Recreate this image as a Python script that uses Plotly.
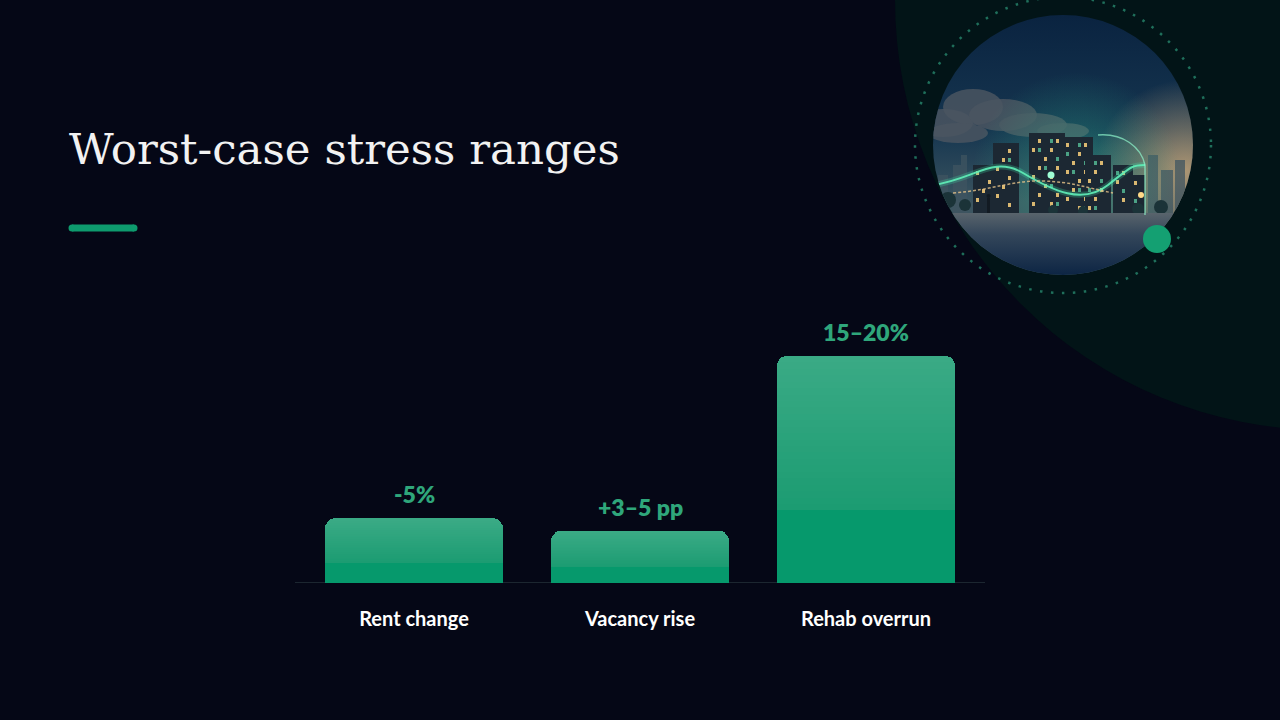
import base64
import plotly.graph_objects as go

# ---------------- data ----------------
categories = ["Rent change", "Vacancy rise", "Rehab overrun"]
values = [5, 4, 17.5]
value_labels = ["-5%", "+3–5 pp", "15–20%"]
title_text = "Worst-case stress ranges"

W, H = 1280, 720
BG = "#050716"


def px(x):
    return x / W


def py(y):
    return 1 - y / H


def hex2rgb(h):
    h = h.lstrip("#")
    return tuple(int(h[i:i + 2], 16) for i in (0, 2, 4))


def lerp(c1, c2, t):
    a, b = hex2rgb(c1), hex2rgb(c2)
    return "#%02x%02x%02x" % tuple(round(a[i] + (b[i] - a[i]) * t) for i in range(3))


# bar gradient built from stacked slices (bottom flat part + gradient upper part)
bottom_frac = 0.32
n_grad = 24
segments = [(bottom_frac, "#06996c")] + [
    ((1 - bottom_frac) / n_grad, lerp("#1c9c72", "#3aaa85", i / (n_grad - 1)))
    for i in range(n_grad)
]

fig = go.Figure()
for frac, color in segments:
    fig.add_trace(go.Bar(
        x=categories,
        y=[v * frac for v in values],
        marker=dict(color=color, line=dict(width=0)),
        hoverinfo="skip",
        showlegend=False,
    ))

# ---------------- decorative illustration (SVG) ----------------
s = []
s.append('<svg xmlns="http://www.w3.org/2000/svg" width="260" height="260" viewBox="0 0 260 260">')
s.append('<defs>'
         '<clipPath id="c"><circle cx="130" cy="130" r="130"/></clipPath>'
         '<linearGradient id="sky" x1="0" y1="0" x2="0" y2="1">'
         '<stop offset="0" stop-color="#0a2340"/><stop offset="0.45" stop-color="#163650"/>'
         '<stop offset="0.72" stop-color="#3c5560"/><stop offset="1" stop-color="#3c5560"/></linearGradient>'
         '<radialGradient id="warm" cx="0.97" cy="0.6" r="0.35">'
         '<stop offset="0" stop-color="#d8b07c" stop-opacity="0.75"/>'
         '<stop offset="1" stop-color="#d8b07c" stop-opacity="0"/></radialGradient>'
         '<radialGradient id="glow" cx="0.55" cy="0.62" r="0.4">'
         '<stop offset="0" stop-color="#2fd39a" stop-opacity="0.35"/>'
         '<stop offset="1" stop-color="#2fd39a" stop-opacity="0"/></radialGradient>'
         '<linearGradient id="ground" x1="0" y1="0" x2="0" y2="1">'
         '<stop offset="0" stop-color="#59646c"/><stop offset="0.35" stop-color="#33465a"/>'
         '<stop offset="1" stop-color="#0d2544"/></linearGradient>'
         '</defs>')
s.append('<g clip-path="url(#c)">')
s.append('<rect x="0" y="0" width="260" height="260" fill="url(#sky)"/>')
s.append('<rect x="0" y="0" width="260" height="260" fill="url(#warm)"/>')
# clouds
for cx, cy, rx, ry in [(10, 108, 30, 14), (40, 92, 30, 18), (70, 100, 34, 16), (100, 110, 34, 12),
                       (130, 116, 26, 8), (25, 118, 30, 10)]:
    s.append(f'<ellipse cx="{cx}" cy="{cy}" rx="{rx}" ry="{ry}" fill="#4a5560" opacity="0.85"/>')
# distant skyline
for x, w, top in [(5, 10, 160), (20, 8, 150), (28, 6, 140), (215, 10, 140), (228, 12, 155), (242, 10, 145)]:
    s.append(f'<rect x="{x}" y="{top}" width="{w}" height="{200 - top}" fill="#3f5460" opacity="0.75"/>')
s.append('<rect x="0" y="0" width="260" height="260" fill="url(#glow)"/>')
# buildings
buildings = [(40, 22, 150), (60, 26, 128), (96, 36, 118), (130, 30, 122), (152, 26, 140),
             (180, 20, 150), (198, 14, 160)]
for bi, (x, w, top) in enumerate(buildings):
    s.append(f'<rect x="{x}" y="{top}" width="{w}" height="{200 - top}" fill="#1c2833"/>')
    row = 0
    yy = top + 6
    while yy < 192:
        col = 0
        xx = x + 3
        while xx + 3 < x + w - 2:
            if (row + col + bi) % 3 == 0:
                s.append(f'<rect x="{xx}" y="{yy}" width="3" height="4" fill="#f0c878" opacity="0.9"/>')
            elif (row * 2 + col + bi) % 5 == 0:
                s.append(f'<rect x="{xx}" y="{yy}" width="3" height="4" fill="#5fd6a8" opacity="0.7"/>')
            xx += 6
            col += 1
        yy += 9
        row += 1
# trees
for cx, cy, r in [(15, 185, 8), (32, 190, 6), (120, 195, 5), (150, 196, 5), (205, 194, 6), (228, 192, 7)]:
    s.append(f'<circle cx="{cx}" cy="{cy}" r="{r}" fill="#1b3338"/>')
# ground
s.append('<rect x="0" y="198" width="260" height="62" fill="url(#ground)"/>')
# person
s.append('<rect x="54" y="183" width="3" height="15" fill="#121a22"/><circle cx="55.5" cy="181" r="2" fill="#121a22"/>')
# green curves
s.append('<path d="M0 170 C40 165 60 140 90 158 S150 190 175 170 S200 150 212 150" '
         'fill="none" stroke="#3fe0a6" stroke-width="6" opacity="0.25"/>')
s.append('<path d="M0 170 C40 165 60 140 90 158 S150 190 175 170 S200 150 212 150" '
         'fill="none" stroke="#5ff0b8" stroke-width="2" opacity="0.9"/>')
s.append('<path d="M20 178 C60 175 80 165 110 166 S150 172 180 178" '
         'fill="none" stroke="#e8c48a" stroke-width="1.5" stroke-dasharray="3 2" opacity="0.8"/>')
s.append('<path d="M165 120 C190 118 208 132 212 150 L212 200" fill="none" stroke="#8ef5cc" stroke-width="1.5" opacity="0.7"/>')
s.append('<circle cx="118" cy="160" r="3.5" fill="#9effd6"/>')
s.append('<circle cx="208" cy="180" r="3" fill="#ffd988"/>')
s.append('</g></svg>')
svg_uri = "data:image/svg+xml;base64," + base64.b64encode("".join(s).encode()).decode()

# ---------------- shapes ----------------
shapes = [
    # large dark circle top-right
    dict(type="circle", xref="paper", yref="paper", x0=px(895), x1=px(1755), y0=py(430), y1=py(-430),
         fillcolor="#021417", line=dict(width=0), layer="below"),
    # dotted ring
    dict(type="circle", xref="paper", yref="paper", x0=px(915), x1=px(1211), y0=py(293), y1=py(-3),
         fillcolor="rgba(0,0,0,0)", line=dict(color="#1f6f5b", width=2.5, dash="2.5px,8.5px"), layer="below"),
    # accent bar under title
    dict(type="rect", xref="paper", yref="paper", x0=px(72), x1=px(134), y0=py(231.5), y1=py(224.5),
         fillcolor="#0e9b6e", line=dict(width=0)),
    dict(type="circle", xref="paper", yref="paper", x0=px(68.5), x1=px(75.5), y0=py(231.5), y1=py(224.5),
         fillcolor="#0e9b6e", line=dict(width=0)),
    dict(type="circle", xref="paper", yref="paper", x0=px(130.5), x1=px(137.5), y0=py(231.5), y1=py(224.5),
         fillcolor="#0e9b6e", line=dict(width=0)),
    # baseline
    dict(type="line", xref="paper", yref="y", x0=px(295), x1=px(985), y0=0, y1=0,
         line=dict(color="#1c2630", width=2), layer="below"),
]

annotations = [
    dict(text=title_text, xref="paper", yref="paper", x=px(67), y=py(149), xanchor="left", yanchor="middle",
         showarrow=False, font=dict(family="DejaVu Serif", size=43.5, color="#f2f2f2")),
]
for c, v, t in zip(categories, values, value_labels):
    annotations.append(dict(text=t, x=c, y=v, xref="x", yref="y", yanchor="bottom", yshift=8,
                            showarrow=False,
                            font=dict(family="Lato", size=23, color="#2fa67b", weight=800)))

fig.update_layout(
    width=W, height=H,
    margin=dict(l=0, r=0, t=0, b=0),
    paper_bgcolor=BG, plot_bgcolor="rgba(0,0,0,0)",
    barmode="stack", bargap=0.212, barcornerradius=10,
    showlegend=False,
    shapes=shapes,
    annotations=annotations,
    images=[dict(source=svg_uri, xref="paper", yref="paper", x=px(933), y=py(15),
                 sizex=260 / W, sizey=260 / H, xanchor="left", yanchor="top",
                 sizing="stretch", layer="above")],
    xaxis=dict(domain=[px(301), px(979)], showgrid=False, zeroline=False, showline=False,
               ticks="", ticklabelstandoff=22,
               tickfont=dict(family="Lato", size=20, color="#ffffff", weight=700),
               fixedrange=True),
    yaxis=dict(domain=[py(583), py(323.6)], range=[0, 20], visible=False, fixedrange=True),
)
# green dot on top of the image
fig.add_shape(type="circle", xref="paper", yref="paper", x0=px(1143), x1=px(1171), y0=py(253), y1=py(225),
              fillcolor="#14a072", line=dict(width=0), layer="above")

fig.write_html(
    "out.html",
    config={"displayModeBar": False},
    post_script="document.body.style.margin='0';document.body.style.background='%s';" % BG,
)
